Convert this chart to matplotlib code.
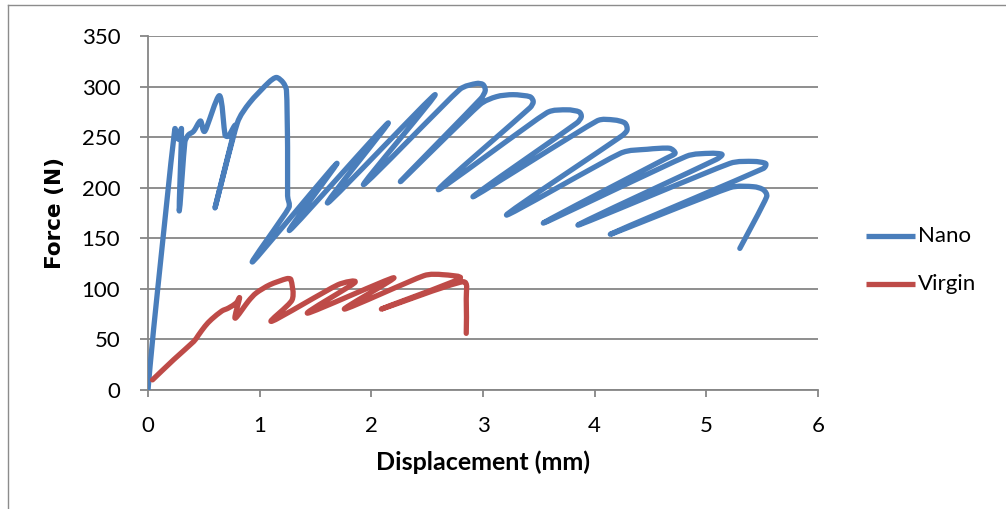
import math
import matplotlib
matplotlib.use("Agg")
import matplotlib.pyplot as plt
from matplotlib.lines import Line2D
from matplotlib.path import Path
from matplotlib.patches import PathPatch

# Force-displacement records (mm, N)
nano_disp = [0.00, 0.05, 0.24, 0.27, 0.30, 0.28, 0.33, 0.36, 0.41, 0.47, 0.51, 0.64,
             0.69, 0.72, 0.78, 0.60, 0.80, 0.91, 1.08, 1.15, 1.21, 1.24, 1.25, 1.25,
             1.26, 0.94, 1.69, 1.27, 2.15, 1.61, 2.57, 1.93, 2.79, 2.94, 3.00, 3.02,
             2.98, 2.26, 2.97, 3.12, 3.27, 3.42, 3.45, 3.42, 2.60, 3.57, 3.75, 3.86,
             3.88, 3.84, 2.91, 4.02, 4.17, 4.27, 4.29, 4.24, 3.21, 4.23, 4.47, 4.67,
             4.72, 4.64, 3.54, 4.82, 5.03, 5.14, 5.09, 3.85, 5.21, 5.42, 5.53, 5.51,
             4.14, 5.21, 5.42, 5.51, 5.54, 5.30]
nano_force = [0, 60, 258, 248, 258, 177, 245, 252, 256, 266, 256, 291,
              252, 251, 261, 180, 264, 284, 304, 309, 304, 296, 240, 192,
              180, 127, 224, 158, 264, 185, 292, 203, 297, 303, 302, 296,
              288, 206, 282, 290, 292, 290, 285, 279, 198, 274, 277, 275,
              270, 264, 191, 266, 267, 264, 257, 251, 173, 234, 238, 239,
              234, 229, 165, 231, 234, 233, 228, 163, 224, 226, 224, 219,
              154, 200, 201, 198, 191, 140]

virgin_disp = [0.04, 0.23, 0.41, 0.45, 0.51, 0.57, 0.66, 0.72, 0.79, 0.82, 0.78,
               0.90, 0.97, 1.09, 1.24, 1.28, 1.29, 1.11, 1.70, 1.85, 1.43, 2.20,
               1.76, 2.47, 2.64, 2.79, 2.09, 2.82, 2.85, 2.85]
virgin_force = [10, 30, 48, 54, 63, 70, 78, 81, 86, 91, 71,
                88, 96, 104, 110, 109, 89, 68, 104, 106, 76, 111,
                80, 113, 114, 110, 80, 107, 90, 56]

series_names = ["Nano", "Virgin"]
series_colors = ["#4A7EBB", "#BE4B48"]
x_ticks = [0, 1, 2, 3, 4, 5, 6]
y_ticks = [0, 50, 100, 150, 200, 250, 300, 350]


def smooth_path(xs, ys, sx, sy, k=0.14, clip=0.35):
    """Cubic Bezier through every point (smoothed scatter line).

    Tangents follow the neighbouring points; handles are clipped to a share of
    the segment length (measured in screen-like units) to avoid overshoot.
    """
    pts = list(zip(xs, ys))
    n = len(pts)

    def handle(i, seg_len):
        a = pts[max(i - 1, 0)]
        b = pts[min(i + 1, n - 1)]
        dx, dy = (b[0] - a[0]) * k, (b[1] - a[1]) * k
        L = math.hypot(dx * sx, dy * sy)
        lim = clip * seg_len
        if L > lim and L > 0:
            dx, dy = dx * lim / L, dy * lim / L
        return dx, dy

    verts = [pts[0]]
    codes = [Path.MOVETO]
    for i in range(n - 1):
        p1, p2 = pts[i], pts[i + 1]
        seg = math.hypot((p2[0] - p1[0]) * sx, (p2[1] - p1[1]) * sy)
        h1 = handle(i, seg)
        h2 = handle(i + 1, seg)
        verts += [(p1[0] + h1[0], p1[1] + h1[1]),
                  (p2[0] - h2[0], p2[1] - h2[1]), p2]
        codes += [Path.CURVE4] * 3
    return Path(verts, codes)


W, H = 1006, 509
fig = plt.figure(figsize=(W / 100, H / 100), dpi=100)
fig.patch.set_facecolor("white")

ax = fig.add_axes([148 / W, 1 - 390 / H, (818 - 148) / W, (390 - 36) / H])
grid_c = "#868686"

ax.set_xlim(0, 6)
ax.set_ylim(0, 350)
# pixels per data unit, used only for measuring handle lengths
bb = ax.get_window_extent()
px_x = bb.width / 6
px_y = bb.height / 350

lw = 3.8
for xs, ys, c in [(nano_disp, nano_force, series_colors[0]),
                  (virgin_disp, virgin_force, series_colors[1])]:
    ax.add_patch(PathPatch(smooth_path(xs, ys, px_x, px_y), facecolor="none",
                           edgecolor=c, lw=lw, joinstyle="round",
                           capstyle="round", zorder=3))

ax.set_xticks(x_ticks)
ax.set_yticks(y_ticks)
ax.yaxis.grid(True, color=grid_c, lw=1.3)
ax.set_axisbelow(True)
for s in ["top", "right"]:
    ax.spines[s].set_visible(False)
for s in ["left", "bottom"]:
    ax.spines[s].set_color(grid_c)
    ax.spines[s].set_linewidth(1.3)

tick_font = "Lato"
ax.tick_params(axis="y", direction="out", length=6, width=1.3, color=grid_c, pad=14)
ax.tick_params(axis="x", direction="out", length=5, width=1.3, color=grid_c, pad=14)
for lab in ax.get_xticklabels() + ax.get_yticklabels():
    lab.set_fontfamily(tick_font)
    lab.set_fontsize(16)

ax.set_xlabel("Displacement (mm)", fontfamily=tick_font, fontweight="bold",
              fontsize=18, labelpad=10)
ax.set_ylabel("Force (N)", fontfamily="DejaVu Sans", fontweight="bold",
              fontsize=15.5, labelpad=12)

# legend drawn as figure artists at the right side
for i, (name, c) in enumerate(zip(series_names, series_colors)):
    yp = 1 - (236 + 48 * i) / H
    fig.add_artist(Line2D([866 / W, 915 / W], [yp, yp], color=c, lw=lw,
                          solid_capstyle="butt", transform=fig.transFigure))
    fig.text(918 / W, yp, name, fontfamily=tick_font, fontsize=16,
             va="center", ha="left")

# chart area border
border_c = "#8C8C8C"
fig.add_artist(Line2D([8 / W, 8 / W], [0, 1 - 5 / H], color=border_c, lw=1.0,
                      transform=fig.transFigure))
fig.add_artist(Line2D([8 / W, 1], [1 - 5 / H, 1 - 5 / H], color=border_c, lw=1.0,
                      transform=fig.transFigure))

fig.savefig("out.png", dpi=100)
